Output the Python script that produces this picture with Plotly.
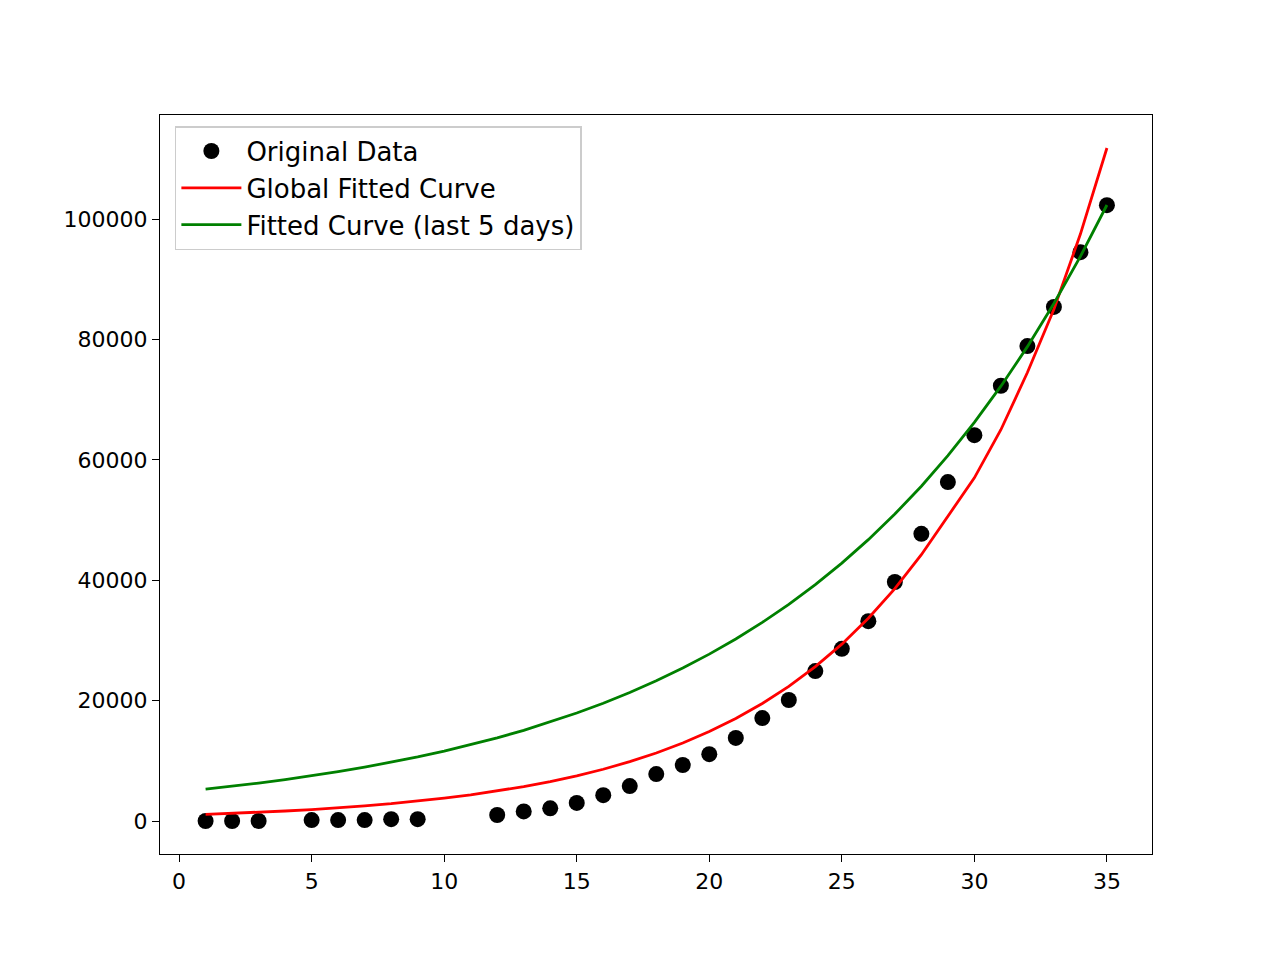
import plotly.graph_objects as go

days = [1,2,3,5,6,7,8,9,12,13,14,15,16,17,18,19,20,21,22,23,24,25,26,27,28,29,30,31,32,33,34,35]
cases = [0,0,0,150,150,150,300,300,1000,1600,2100,3000,4300,5800,7800,9300,11100,13800,17100,20100,
         24900,28600,33200,39700,47700,56300,64100,72300,78900,85400,94500,102300]

fit_x = list(range(1, 36))
global_fit = [1100,1260,1450,1660,1900,2180,2510,2870,3300,3790,4340,4980,5710,6540,7500,8600,9860,
              11300,12960,14860,17030,19520,22370,25640,29380,33680,38600,44240,50700,57000,65000,
              74500,85000,97500,111800]
last5_fit = [5300,5780,6310,6880,7510,8190,8940,9750,10640,11610,12660,13810,15070,16440,17940,19570,
             21350,23290,25410,27720,30240,32990,35990,39270,42840,46740,50990,55620,60690,66210,
             72230,78800,85970,93790,102330]

fig = go.Figure()
fig.add_trace(go.Scatter(x=days, y=cases, mode="markers", name="Original Data",
                         marker=dict(color="black", size=16)))
fig.add_trace(go.Scatter(x=fit_x, y=global_fit, mode="lines", name="Global Fitted Curve",
                         line=dict(color="red", width=2.8)))
fig.add_trace(go.Scatter(x=fit_x, y=last5_fit, mode="lines", name="Fitted Curve (last 5 days)",
                         line=dict(color="green", width=2.8)))

axis = dict(showgrid=False, zeroline=False, showline=True, linecolor="black", linewidth=1.2,
            mirror=True, ticks="outside", ticklen=7, tickcolor="black",
            tickfont=dict(family="DejaVu Sans", size=22, color="black"))
fig.update_layout(
    width=1280, height=960, plot_bgcolor="white", paper_bgcolor="white",
    margin=dict(l=152, r=136, t=107, b=114),
    xaxis=dict(range=[-0.72, 36.7], tickvals=[0,5,10,15,20,25,30,35], **axis),
    yaxis=dict(range=[-5480, 117280], tickvals=[0,20000,40000,60000,80000,100000],
               tickformat="d", **axis),
    legend=dict(x=0.015, y=0.985, xanchor="left", yanchor="top", bgcolor="white",
                bordercolor="#cccccc", borderwidth=1.5, itemwidth=60, tracegroupgap=8,
                font=dict(family="DejaVu Sans", size=26, color="black")),
    showlegend=True,
)
fig.write_html("out.html")
